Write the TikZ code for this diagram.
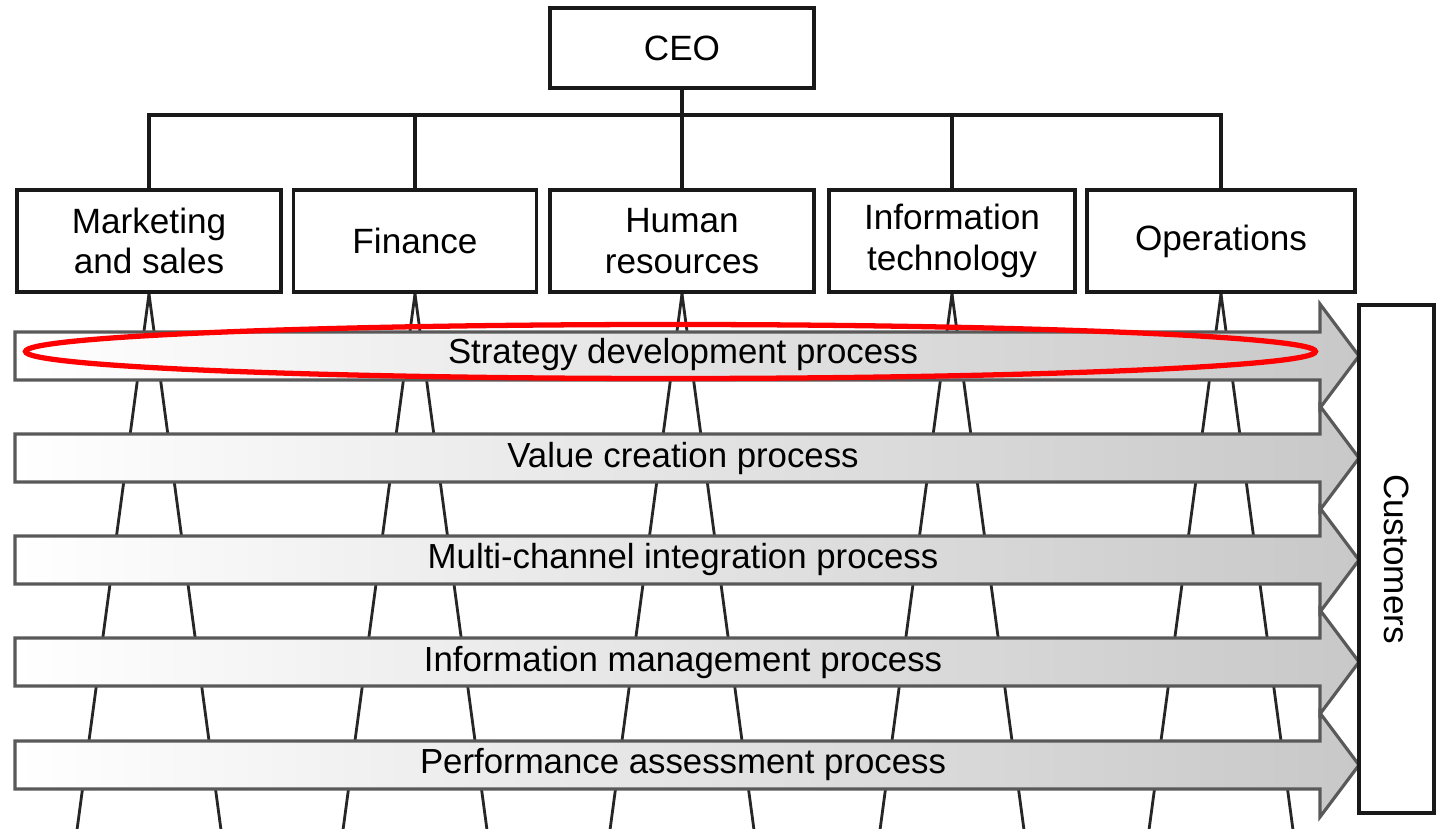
\documentclass[tikz,border=0pt]{standalone}
\usepackage{fontspec}
\setmainfont{Liberation Sans}

\begin{document}
\begin{tikzpicture}[
    orgbox/.style={draw=black!90, line width=1.1pt, fill=white, align=center, inner sep=0pt,
        font=\fontsize{10}{11.5}\selectfont},
    orgline/.style={draw=black!90, line width=1.0pt},
    fanline/.style={draw=black!85, line width=0.8pt},
    procarrow/.style={draw=black!65, line width=0.9pt, left color=white, right color=proc_grey},
    proclabel/.style={inner sep=0pt, font=\fontsize{9.9}{12}\selectfont}
]
    \definecolor{proc_grey}{HTML}{C8C8C8}
    \definecolor{mark_red}{HTML}{FF0000}
    \useasboundingbox (0,0) rectangle (14.37,8.28);
    %\draw[help lines] (0,0) grid (14,8);

    % organisation chart
    \node[orgbox, minimum width=2.64cm, minimum height=0.80cm] (ceo) at (6.82,7.80) {CEO};
    \node[orgbox, minimum width=2.64cm, minimum height=1.02cm] (mkt) at (1.49,5.87) {Marketing\\and sales};
    \node[orgbox, minimum width=2.43cm, minimum height=1.02cm] (fin) at (4.15,5.87) {Finance};
    \node[orgbox, minimum width=2.64cm, minimum height=1.02cm] (hr) at (6.82,5.87) {Human\\resources};
    \node[orgbox, minimum width=2.46cm, minimum height=1.02cm] (it) at (9.52,5.87) {Information\\technology};
    \node[orgbox, minimum width=2.68cm, minimum height=1.02cm] (ops) at (12.21,5.87) {Operations};

    \coordinate (bus) at (6.82,7.13);
    \draw[orgline] (ceo.south) -- (hr.north);
    \draw[orgline] (mkt.north) |- (bus) -| (ops.north);
    \draw[orgline] (fin.north) -- (fin.north |- bus);
    \draw[orgline] (it.north) -- (it.north |- bus);

    % functions reaching down through the processes
    \draw[fanline] (mkt.south) -- ++(-0.72,-5.36);
    \draw[fanline] (mkt.south) -- ++(0.72,-5.36);
    \draw[fanline] (fin.south) -- ++(-0.72,-5.36);
    \draw[fanline] (fin.south) -- ++(0.72,-5.36);
    \draw[fanline] (hr.south) -- ++(-0.72,-5.36);
    \draw[fanline] (hr.south) -- ++(0.72,-5.36);
    \draw[fanline] (it.south) -- ++(-0.72,-5.36);
    \draw[fanline] (it.south) -- ++(0.72,-5.36);
    \draw[fanline] (ops.south) -- ++(-0.72,-5.36);
    \draw[fanline] (ops.south) -- ++(0.72,-5.36);

    % cross-functional processes
    \path[procarrow] (0.15,4.96) -- (13.20,4.96) -- (13.20,5.24) -- (13.59,4.72)
        -- (13.20,4.20) -- (13.20,4.48) -- (0.15,4.48) -- cycle;
    \path[procarrow] (0.15,3.94) -- (13.20,3.94) -- (13.20,4.22) -- (13.59,3.70)
        -- (13.20,3.18) -- (13.20,3.46) -- (0.15,3.46) -- cycle;
    \path[procarrow] (0.15,2.92) -- (13.20,2.92) -- (13.20,3.20) -- (13.59,2.68)
        -- (13.20,2.16) -- (13.20,2.44) -- (0.15,2.44) -- cycle;
    \path[procarrow] (0.15,1.90) -- (13.20,1.90) -- (13.20,2.18) -- (13.59,1.66)
        -- (13.20,1.14) -- (13.20,1.42) -- (0.15,1.42) -- cycle;
    \path[procarrow] (0.15,0.87) -- (13.20,0.87) -- (13.20,1.15) -- (13.59,0.63)
        -- (13.20,0.11) -- (13.20,0.39) -- (0.15,0.39) -- cycle;

    \node[proclabel] (strategy) at (6.83,4.73) {Strategy development process};
    \node[proclabel] (value) at (6.83,3.69) {Value creation process};
    \node[proclabel] (channel) at (6.83,2.68) {Multi-channel integration process};
    \node[proclabel] (infomgmt) at (6.83,1.65) {Information management process};
    \node[proclabel] (perform) at (6.83,0.63) {Performance assessment process};

    \node[orgbox, rotate=-90, minimum width=5.08cm, minimum height=0.75cm] (cust) at (13.965,2.69) {Customers};

    % highlight
    \draw[mark_red, line width=1.5pt] (6.705,4.765) ellipse [x radius=6.45cm, y radius=0.27cm];
\end{tikzpicture}
\end{document}
